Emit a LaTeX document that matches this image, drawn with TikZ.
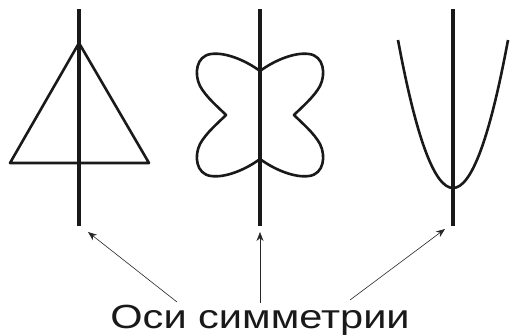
\documentclass[tikz,border=0pt]{standalone}
\usepackage{fontspec}
\setmainfont{Liberation Sans}
\usetikzlibrary{arrows.meta}
\begin{document}
\begin{tikzpicture}[x=1pt,y=-1pt,
  axisline/.style={line width=4pt, color=black!90},
  shapeline/.style={line width=2.6pt, color=black!90, line join=round},
  pointer/.style={line width=0.6pt, color=black!85, -{Stealth[length=9pt,width=7pt]}},
  caption/.style={font=\fontsize{33.5}{40}\selectfont, text=black!90, inner sep=0pt, anchor=base, xscale=1.24}]
\useasboundingbox (0,0) rectangle (510,335);
% axes
\coordinate (a1t) at (79,9);   \coordinate (a1b) at (79,226);
\coordinate (a2t) at (260,9);  \coordinate (a2b) at (260,226);
\coordinate (a3t) at (453,9);  \coordinate (a3b) at (453,226);
% triangle
\coordinate (tA) at (79,43); \coordinate (tL) at (10,163); \coordinate (tR) at (149,163);
\draw[shapeline] (tA) -- (tL) -- (tR) -- cycle;
% butterfly
\draw[shapeline] (260,71) .. controls (245,60) and (225,52) .. (211,54)
  .. controls (196,56) and (194,74) .. (200,86)
  .. controls (206,97) and (218,107) .. (226,115)
  .. controls (218,123) and (206,133) .. (200,144)
  .. controls (194,156) and (196,174) .. (211,176)
  .. controls (225,178) and (245,170) .. (260,159)
  .. controls (275,170) and (295,178) .. (309,176)
  .. controls (324,174) and (326,156) .. (320,144)
  .. controls (314,133) and (302,123) .. (294,115)
  .. controls (302,107) and (314,97) .. (320,86)
  .. controls (326,74) and (324,56) .. (309,54)
  .. controls (295,52) and (275,60) .. cycle;
% parabola
\draw[shapeline, line cap=butt] (398,40) .. controls (434.67,237.33) and (471.33,237.33) .. (508,40);
% axes on top
\draw[axisline] (a1t) -- (a1b);
\draw[axisline] (a2t) -- (a2b);
\draw[axisline] (a3t) -- (a3b);
% caption
\node[caption] (cap) at (260,328) {Оси симметрии};
\coordinate (s1) at (177,302); \coordinate (e1) at (88,232);
\coordinate (s2) at (260,303); \coordinate (e2) at (260,232);
\coordinate (s3) at (350,300); \coordinate (e3) at (445,229);
\draw[pointer] (s1) -- (e1);
\draw[pointer] (s2) -- (e2);
\draw[pointer] (s3) -- (e3);
\end{tikzpicture}
\end{document}
